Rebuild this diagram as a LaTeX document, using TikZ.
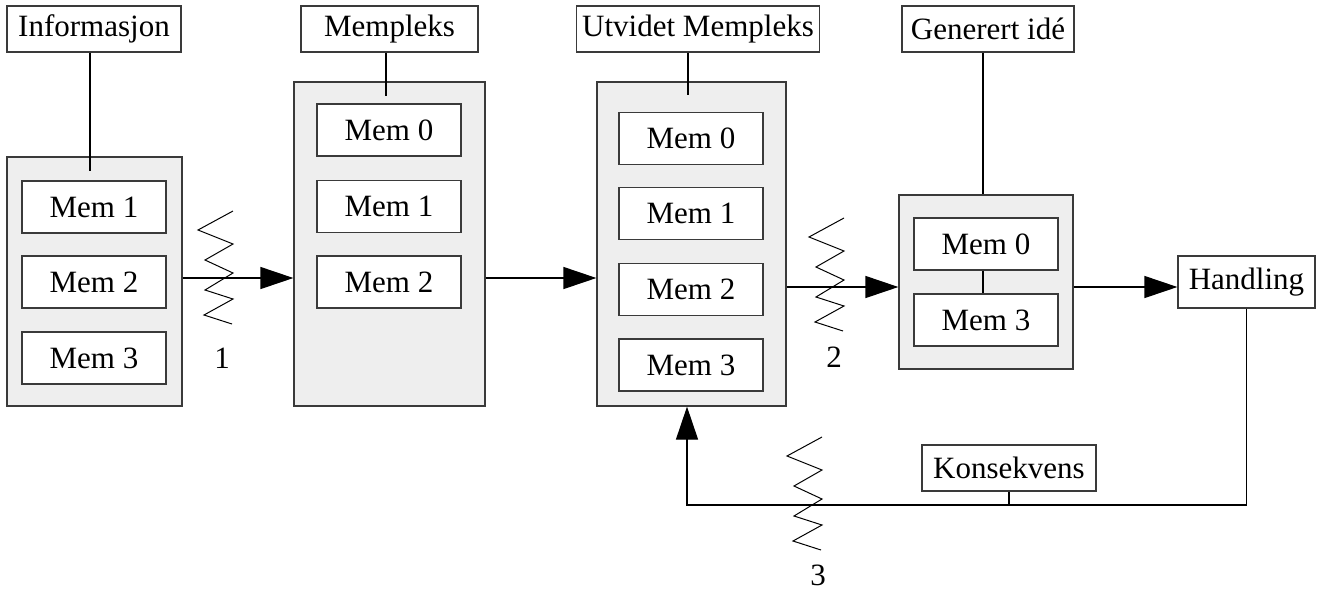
\documentclass[tikz,border=0pt]{standalone}
\usepackage{fontspec}
\setmainfont{Liberation Serif}
\usetikzlibrary{arrows.meta,calc}

\definecolor{panel}{HTML}{EEEEEE}
\definecolor{edge}{HTML}{3A3A3A}

\tikzset{
  lbl/.style={draw=edge, fill=white, line width=0.6pt, inner xsep=1pt,
              inner ysep=0pt, minimum height=23pt, font=\fontsize{15.5}{18}\selectfont},
  membox/.style={draw=edge, fill=white, line width=0.6pt, minimum width=72pt,
                 minimum height=26pt, inner sep=0pt, font=\fontsize{15.5}{18}\selectfont},
  group/.style={draw=edge, fill=panel, line width=0.6pt, inner sep=0pt},
  wire/.style={line width=0.6pt, draw=black},
  flow/.style={wire, -{Triangle[length=16.5pt,width=11pt]}},
  num/.style={font=\fontsize{15.5}{18}\selectfont},
  zigzag/.pic={
    \draw[line width=0.5pt] (13,0) -- (-22,19) -- (13,33) -- (-15,49) -- (13,62)
      -- (-15,79) -- (13,88) -- (-16,104) -- (12,113);
  }
}

\begin{document}
\begin{tikzpicture}[x=0.5pt, y=-0.5pt]
\useasboundingbox (0,0) rectangle (1329,591);

% rows used by the horizontal connectors
\coordinate (row1) at (0,278);
\coordinate (row2) at (0,287);
\coordinate (fbL) at (687,505);

% columns of the heading stems
\coordinate (s1) at (90,0);
\coordinate (s2) at (386,0);
\coordinate (s3) at (688,0);
\coordinate (s4) at (983,0);

% grey groups
\node[group, minimum width=87.5pt, minimum height=124.5pt] (g1) at (94.5,281.5) {};
\node[group, minimum width=95.5pt, minimum height=162pt] (g2) at (389.5,244) {};
\node[group, minimum width=94.5pt, minimum height=162pt] (g3) at (691.5,244) {};
\node[group, minimum width=87pt, minimum height=87pt] (g4) at (986,282) {};

% headings
\node[lbl, minimum width=87pt] (info) at (94,29) {Informasjon};
\node[lbl, minimum width=88.5pt] (mpx) at (389.5,29) {Mempleks};
\node[lbl, minimum width=121.5pt] (umpx) at (698,29) {Utvidet Mempleks};
\node[lbl, minimum width=86pt] (idea) at (988,29) {Generert idé};
\node[lbl, minimum width=68.5pt, minimum height=26pt] (hand) at (1246.5,282) {Handling};
\node[lbl, minimum width=87pt] (kons) at (1009,468) {Konsekvens};

% heading stems
\draw[wire] (info.south -| s1) -- ($(g1.north -| s1)+(0,15)$);
\draw[wire] (mpx.south -| s2) -- ($(g2.north -| s2)+(0,15)$);
\draw[wire] (umpx.south -| s3) -- ($(g3.north -| s3)+(0,14)$);
\draw[wire] (idea.south -| s4) -- (g4.north -| s4);

% members
\node[membox] (a1) at (94,207) {Mem 1};
\node[membox] (a2) at (94,282) {Mem 2};
\node[membox] (a3) at (94,358) {Mem 3};

\node[membox] (b0) at (389,130) {Mem 0};
\node[membox] (b1) at (389,206.5) {Mem 1};
\node[membox] (b2) at (389,282) {Mem 2};

\node[membox] (c0) at (691,138.5) {Mem 0};
\node[membox] (c1) at (691,213.5) {Mem 1};
\node[membox] (c2) at (691,289.5) {Mem 2};
\node[membox] (c3) at (691,365) {Mem 3};

\node[membox] (d0) at (986,244) {Mem 0};
\node[membox] (d3) at (986,320) {Mem 3};
\draw[wire] (d0.south -| s4) -- (d3.north -| s4);

% flow between stages
\draw[flow] (g1.east |- row1) -- (g2.west |- row1);
\draw[flow] (g2.east |- row1) -- (g3.west |- row1);
\draw[flow] (g3.east |- row2) -- (g4.west |- row2);
\draw[flow] (g4.east |- row2) -- (hand.west |- row2);

% feedback loop
\draw[flow] (hand.south) |- (fbL) -- (fbL |- g3.south);
\draw[wire] (kons.south) -- (kons.south |- fbL);

% resistances
\pic at (220,211) {zigzag};
\pic at (831,218) {zigzag};
\pic at (809,437) {zigzag};
\node[num] (n1) at (222,358) {1};
\node[num] (n2) at (834,357) {2};
\node[num] (n3) at (818,575) {3};
\end{tikzpicture}
\end{document}
